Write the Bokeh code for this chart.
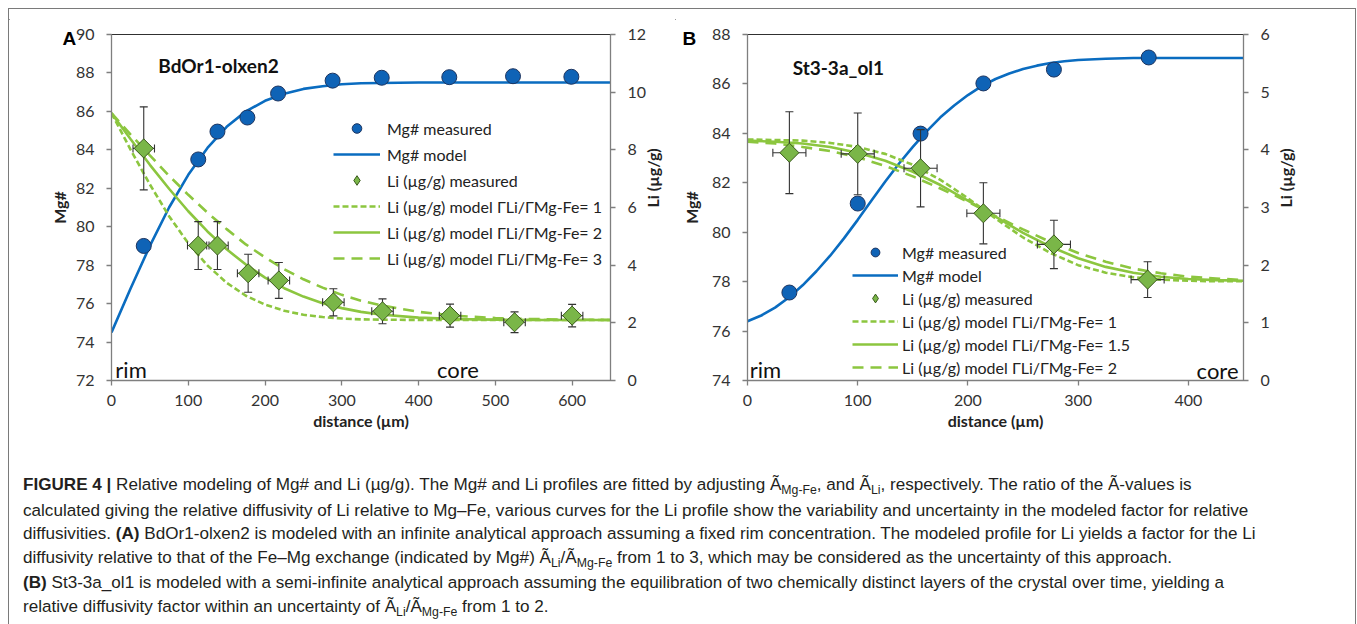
from bokeh.plotting import figure
from bokeh.models import (Range1d, LinearAxis, FixedTicker, Whisker, TeeHead,
                          ColumnDataSource, Label, Legend, LegendItem, Div)
from bokeh.layouts import row, column
from bokeh.embed import file_html
from bokeh.resources import INLINE

# ---------------- Panel A data (BdOr1-olxen2) ----------------
a_mg_x = [42, 113, 138, 177, 217, 288, 352, 440, 523, 599]
a_mg_y = [79.0, 83.5, 84.95, 85.68, 86.93, 87.6, 87.75, 87.78, 87.83, 87.8]
a_model_x = [0, 25, 50, 75, 100, 125, 150, 175, 200, 225, 250, 275, 300, 325, 350,
             400, 450, 500, 550, 600, 650]
a_model_mg = [74.5, 76.8, 79.0, 81.0, 82.7, 84.1, 85.2, 86.0, 86.55, 86.92, 87.17,
              87.31, 87.41, 87.46, 87.48, 87.5, 87.5, 87.5, 87.5, 87.5, 87.5]
a_model_li1 = [9.27, 8.00, 6.80, 5.70, 4.76, 3.99, 3.39, 2.94, 2.63, 2.42, 2.28,
               2.20, 2.15, 2.12, 2.11, 2.10, 2.10, 2.10, 2.10, 2.10, 2.10]
a_model_li2 = [9.27, 8.37, 7.48, 6.65, 5.87, 5.17, 4.55, 4.02, 3.57, 3.20, 2.91,
               2.68, 2.51, 2.38, 2.29, 2.18, 2.13, 2.11, 2.10, 2.10, 2.10]
a_model_li3 = [9.27, 8.53, 7.81, 7.10, 6.44, 5.82, 5.25, 4.72, 4.27, 3.86, 3.51,
               3.22, 2.97, 2.77, 2.61, 2.38, 2.24, 2.17, 2.13, 2.11, 2.10]
a_li_x = [42, 113, 138, 178, 218, 289, 353, 441, 525, 600]
a_li_y = [8.05, 4.68, 4.68, 3.72, 3.47, 2.71, 2.40, 2.25, 2.02, 2.25]
a_li_err = [1.44, 0.83, 0.83, 0.66, 0.62, 0.47, 0.43, 0.40, 0.36, 0.39]
a_li_xerr = [14, 14, 14, 14, 14, 14, 14, 14, 14, 14]
a_x_ticks = [0, 100, 200, 300, 400, 500, 600]
a_mg_ticks = [72, 74, 76, 78, 80, 82, 84, 86, 88, 90]
a_li_ticks = [0, 2, 4, 6, 8, 10, 12]
a_gammas = ["1", "2", "3"]

# ---------------- Panel B data (St3-3a_ol1) ----------------
b_mg_x = [38, 100, 157, 214, 278, 364]
b_mg_y = [77.56, 81.16, 83.99, 86.02, 86.58, 87.07]
b_mgmodel_x = [0, 12.5, 25, 37.5, 50, 62.5, 75, 87.5, 100, 112.5, 125, 137.5, 150,
               162.5, 175, 187.5, 200, 212.5, 225, 237.5, 250, 262.5, 275, 287.5, 300,
               325, 350, 400, 450]
b_mgmodel_y = [76.40, 76.63, 76.95, 77.36, 77.85, 78.42, 79.05, 79.75, 80.50, 81.28,
               82.05, 82.78, 83.45, 84.08, 84.65, 85.13, 85.55, 85.91, 86.20, 86.42,
               86.60, 86.74, 86.85, 86.92, 86.97, 87.02, 87.05, 87.05, 87.05]
b_model_x = [0, 25, 50, 75, 100, 125, 150, 175, 200, 225, 250, 275, 300, 325, 350,
             375, 400, 425, 450]
b_model_li1 = [4.18, 4.17, 4.16, 4.12, 4.05, 3.93, 3.74, 3.48, 3.16, 2.81, 2.48,
               2.21, 2.00, 1.87, 1.79, 1.75, 1.73, 1.72, 1.72]
b_model_li2 = [4.16, 4.14, 4.11, 4.05, 3.95, 3.81, 3.62, 3.39, 3.12, 2.84, 2.56,
               2.32, 2.12, 1.97, 1.87, 1.80, 1.76, 1.74, 1.73]
b_model_li3 = [4.14, 4.11, 4.05, 3.98, 3.87, 3.72, 3.54, 3.33, 3.10, 2.85, 2.62,
               2.40, 2.21, 2.06, 1.94, 1.86, 1.80, 1.77, 1.74]
b_li_x = [38, 100, 157, 214, 278, 363]
b_li_y = [3.95, 3.93, 3.68, 2.90, 2.36, 1.75]
b_li_err = [0.71, 0.71, 0.67, 0.53, 0.42, 0.31]
b_li_xerr = [15, 15, 15, 15, 15, 15]
b_x_ticks = [0, 100, 200, 300, 400]
b_mg_ticks = [74, 76, 78, 80, 82, 84, 86, 88]
b_li_ticks = [0, 1, 2, 3, 4, 5, 6]
b_gammas = ["1", "1.5", "2"]

# ---------------- styles ----------------
BLUE_LINE = "#0a6cc0"
BLUE_FILL = "#0f63b6"
BLUE_EDGE = "#1e3560"
GREEN_LINE = "#8cc63f"
GREEN_FILL = "#7ab648"
GREEN_EDGE = "#3a5a1c"
AX_COL = "#7f7f7f"
TXT = "#333333"
FONT = "Lato"
DASHES = ["6 3", "solid", "11 7"]
BOX_COL = "#7a7a7a"


def style_axis(ax, ticks, label, side):
    ax.ticker = FixedTicker(ticks=ticks)
    ax.axis_label = label
    ax.axis_label_text_font = FONT
    ax.axis_label_text_font_style = "bold"
    ax.axis_label_text_font_size = "16px"
    ax.axis_label_text_color = "#222222"
    ax.major_label_text_font = FONT
    ax.major_label_text_font_size = "16px"
    ax.major_label_text_color = TXT
    ax.axis_line_color = AX_COL
    ax.axis_line_width = 1.3
    ax.major_tick_line_color = AX_COL
    ax.major_tick_line_width = 1.3
    ax.major_tick_out = 5
    ax.major_tick_in = 0
    ax.minor_tick_line_color = None
    ax.major_label_standoff = 12 if side != "below" else 9


def make_panel(width, mb_left, mb_right, xr, yr, lir, xticks, mgticks, liticks,
               mg_x, mg_y, mgm_x, mgm_y, mx, ml1, ml2, ml3, lx, ly, lerr, lxerr, gammas,
               title, title_pos, letter, letter_off, rim_pos, core_pos, core_align,
               leg_loc, leg_gh, leg_sp, leg_gw, leg_so, left_lab_so, right_lab_so):
    p = figure(width=width, height=431, x_range=Range1d(*xr), y_range=Range1d(*yr),
               output_backend="svg", toolbar_location=None,
               min_border_left=mb_left, min_border_right=mb_right,
               min_border_top=25, min_border_bottom=60)
    p.extra_y_ranges = {"li": Range1d(*lir)}
    p.xgrid.visible = False
    p.ygrid.visible = False
    p.outline_line_color = "#303030"
    p.outline_line_width = 1
    p.background_fill_color = "white"
    p.border_fill_color = "white"

    # panel letter as the figure title, pulled down beside the top tick
    p.title.text = letter
    p.title.align = "left"
    p.title.offset = letter_off
    p.title.standoff = -28
    p.title.text_font = "Liberation Sans"
    p.title.text_font_style = "bold"
    p.title.text_font_size = "19px"
    p.title.text_color = "#000000"

    style_axis(p.xaxis[0], xticks, "distance (µm)", "below")
    p.xaxis[0].axis_label_standoff = 2
    style_axis(p.yaxis[0], mgticks, "Mg#", "left")
    p.yaxis[0].axis_label_standoff = left_lab_so
    rax = LinearAxis(y_range_name="li")
    style_axis(rax, liticks, "Li (µg/g)", "right")
    rax.axis_label_standoff = right_lab_so
    try:
        rax.axis_label_orientation = 1.5708
    except AttributeError:
        pass
    p.add_layout(rax, "right")

    r_mgline = p.line(mgm_x, mgm_y, line_color=BLUE_LINE, line_width=2.6)
    r_mgpts = p.scatter(mg_x, mg_y, marker="circle", size=15, fill_color=BLUE_FILL,
                        line_color=BLUE_EDGE, line_width=1)
    r_li = []
    for ys, dash in zip([ml1, ml2, ml3], DASHES):
        r_li.append(p.line(mx, ys, line_color=GREEN_LINE, line_width=2.6,
                           line_dash=dash, y_range_name="li"))

    src = ColumnDataSource(dict(
        x=lx, y=ly,
        lo=[v - e for v, e in zip(ly, lerr)], hi=[v + e for v, e in zip(ly, lerr)],
        xl=[v - e for v, e in zip(lx, lxerr)], xh=[v + e for v, e in zip(lx, lxerr)]))
    # plain diamonds (used as the legend key); they sit hidden under the square ones
    r_dia_key = p.scatter("x", "y", source=src, marker="diamond", size=12,
                          fill_color=GREEN_FILL, line_color=GREEN_EDGE, line_width=1,
                          y_range_name="li")
    wv = Whisker(source=src, base="x", lower="lo", upper="hi", dimension="height",
                 line_color="#333333", line_width=1.1, y_range_name="li", level="glyph",
                 upper_head=TeeHead(size=8, line_color="#333333", line_width=1.1),
                 lower_head=TeeHead(size=8, line_color="#333333", line_width=1.1))
    wh = Whisker(source=src, base="y", lower="xl", upper="xh", dimension="width",
                 line_color="#333333", line_width=1.1, y_range_name="li", level="glyph",
                 upper_head=TeeHead(size=8, line_color="#333333", line_width=1.1),
                 lower_head=TeeHead(size=8, line_color="#333333", line_width=1.1))
    p.add_layout(wv)
    p.add_layout(wh)
    p.scatter("x", "y", source=src, marker="square", angle=0.785398, size=13.5,
              fill_color=GREEN_FILL, line_color=GREEN_EDGE, line_width=1,
              y_range_name="li", level="overlay")

    items = [LegendItem(label="Mg# measured", renderers=[r_mgpts]),
             LegendItem(label="Mg# model", renderers=[r_mgline]),
             LegendItem(label="Li (µg/g) measured", renderers=[r_dia_key])]
    for g, r in zip(gammas, r_li):
        items.append(LegendItem(label="Li (µg/g) model ΓLi/ΓMg-Fe= " + g, renderers=[r]))
    leg = Legend(items=items, location=leg_loc, padding=0, margin=0, spacing=leg_sp,
                 glyph_height=leg_gh, label_height=leg_gh, glyph_width=leg_gw,
                 label_standoff=leg_so, border_line_color=None, background_fill_alpha=0,
                 label_text_font=FONT, label_text_font_size="16px",
                 label_text_color="#222222")
    p.add_layout(leg)

    p.add_layout(Label(x=title_pos[0], y=title_pos[1], text=title, text_font=FONT,
                       text_font_style="bold", text_font_size="19px",
                       text_color="#111111", text_baseline="alphabetic"))
    p.add_layout(Label(x=rim_pos[0], y=rim_pos[1], text="rim", text_font=FONT,
                       text_font_size="22px", text_color="#111111",
                       text_baseline="alphabetic"))
    p.add_layout(Label(x=core_pos[0], y=core_pos[1], text="core", text_font=FONT,
                       text_font_size="22px", text_color="#111111",
                       text_baseline="alphabetic", text_align=core_align))
    return p


pA = make_panel(666, 102, 65, (0, 650), (72, 90), (0, 12), a_x_ticks, a_mg_ticks,
                a_li_ticks, a_mg_x, a_mg_y, a_model_x, a_model_mg, a_model_x,
                a_model_li1, a_model_li2, a_model_li3, a_li_x, a_li_y, a_li_err,
                a_li_xerr, a_gammas, "BdOr1-olxen2", (61, 88.39), "A", -49,
                (5, 72.57), (424, 72.57), "left", (222, 110), 24, 2, 47, 7, 4, 3)
pB = make_panel(680, 72, 112, (0, 450), (74, 88), (0, 6), b_x_ticks, b_mg_ticks,
                b_li_ticks, b_mg_x, b_mg_y, b_mgmodel_x, b_mgmodel_y, b_model_x,
                b_model_li1, b_model_li2, b_model_li3, b_li_x, b_li_y, b_li_err,
                b_li_xerr, b_gammas, "St3-3a_ol1", (41, 86.66), "B", -65,
                (2, 74.44), (445.5, 74.4), "right", (105, 2), 22, 1, 46, 4, 8, 13)

SUB = '<span style="font-size:0.72em; position:relative; top:0.32em;">'


def sub(t):
    return SUB + t + "</span>"


caption_lines = [
    "<b>FIGURE 4 |</b> Relative modeling of Mg# and Li (µg/g). The Mg# and Li profiles are "
    "fitted by adjusting Ã" + sub("Mg-Fe") + ", and Ã" + sub("Li") + ", respectively. "
    "The ratio of the Ã-values is",
    "calculated giving the relative diffusivity of Li relative to Mg–Fe, various curves for "
    "the Li profile show the variability and uncertainty in the modeled factor for relative",
    "diffusivities. <b>(A)</b> BdOr1-olxen2 is modeled with an infinite analytical approach "
    "assuming a fixed rim concentration. The modeled profile for Li yields a factor for the Li",
    "diffusivity relative to that of the Fe–Mg exchange (indicated by Mg#) "
    "Ã" + sub("Li") + "/Ã" + sub("Mg-Fe") + " from 1 to 3, which may be considered as the "
    "uncertainty of this approach.",
    "<b>(B)</b> St3-3a_ol1 is modeled with a semi-infinite analytical approach assuming the "
    "equilibration of two chemically distinct layers of the crystal over time, yielding a",
    "relative diffusivity factor within an uncertainty of Ã" + sub("Li") + "/Ã"
    + sub("Mg-Fe") + " from 1 to 2.",
]
caption_html = (
    '<div style="padding:33px 0 0 14px; font-family:\'Liberation Sans\', Arial, sans-serif;'
    ' font-size:17.1px; line-height:23.6px; color:#231f20; white-space:nowrap;">'
    + "<br>".join(caption_lines) + "</div>"
)
cap = Div(text=caption_html, width=1346, height=183, margin=0)


def rule(w, h):
    # a thin grey rule used to frame the whole figure
    return Div(text='<div style="width:%dpx;height:%dpx;background:%s;"></div>'
               % (w, h, BOX_COL), width=w, height=h, margin=0,
               styles={"background-color": BOX_COL})


layout = column(
    rule(1348, 1),
    row(rule(1, 615), column(row(pA, pB), cap), rule(1, 615)),
    margin=(8, 0, 0, 8))

open("out.html", "w").write(file_html(layout, INLINE))
